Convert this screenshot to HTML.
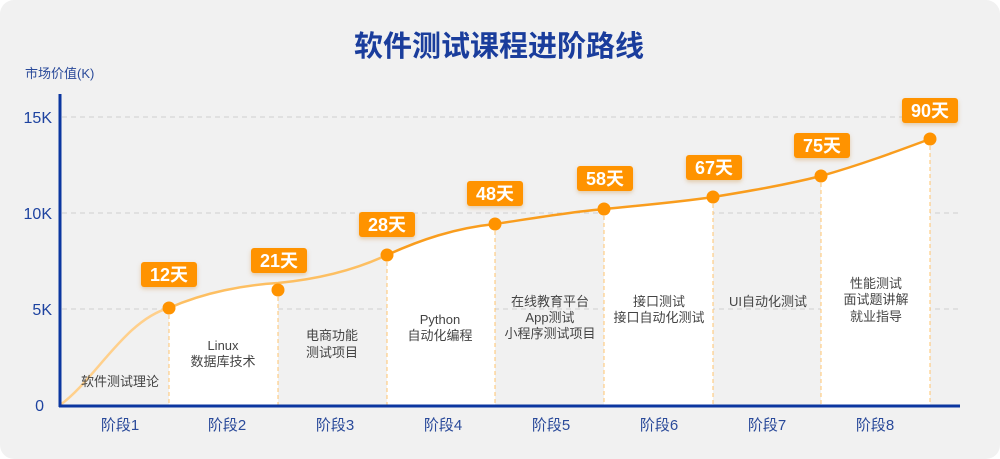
<!DOCTYPE html>
<html><head><meta charset="utf-8"><style>
html,body{margin:0;padding:0;background:#fff;}
svg{display:block;}
text{font-family:"Liberation Sans","Noto Sans CJK SC",sans-serif;}
</style></head><body>
<svg width="1000" height="459" viewBox="0 0 1000 459" xmlns="http://www.w3.org/2000/svg">
<defs>
<clipPath id="cols">
<rect x="169" y="0" width="109" height="406"/>
<rect x="387" y="0" width="108" height="406"/>
<rect x="604" y="0" width="109" height="406"/>
<rect x="821" y="0" width="109" height="406"/>
</clipPath>
<filter id="sh" x="-20%" y="-20%" width="140%" height="160%"><feDropShadow dx="0" dy="2" stdDeviation="2" flood-color="#c07000" flood-opacity="0.3"/></filter>
</defs>
<rect x="0" y="0" width="1000" height="459" rx="14" fill="#f1f1f1"/>
<text x="499" y="56" text-anchor="middle" font-size="29" font-weight="bold" fill="#1a3d9c">软件测试课程进阶路线</text>
<text x="25" y="78" font-size="13" fill="#2a4a9a">市场价值(K)</text>
<g stroke="#cfcfcf" stroke-width="1" stroke-dasharray="5,4">
<line x1="62" y1="117" x2="960" y2="117"/>
<line x1="62" y1="213" x2="960" y2="213"/>
<line x1="62" y1="309" x2="960" y2="309"/>
</g>
<g font-size="16" fill="#1e43a0" text-anchor="end">
<text x="52" y="123">15K</text>
<text x="52" y="219">10K</text>
<text x="52" y="315">5K</text>
<text x="44" y="411">0</text>
</g>
<path clip-path="url(#cols)" fill="#ffffff" d="M60,405 C95,380 125,320 169,308 C205,292 245,285 278,283 C320,279 355,270 387,255 C420,240 455,228 495,224 C535,218 570,212 604,209 C645,205 680,202 713,197 C750,191 785,185 821,176 C860,165 895,152 930,139 L930,406 L60,406 Z"/>
<g stroke="#ffc46e" stroke-width="1" stroke-dasharray="4,3">
<line x1="169" y1="308" x2="169" y2="405"/>
<line x1="278" y1="290" x2="278" y2="405"/>
<line x1="387" y1="255" x2="387" y2="405"/>
<line x1="495" y1="224" x2="495" y2="405"/>
<line x1="604" y1="209" x2="604" y2="405"/>
<line x1="713" y1="197" x2="713" y2="405"/>
<line x1="821" y1="176" x2="821" y2="405"/>
<line x1="930" y1="139" x2="930" y2="405"/>
</g>
<path fill="none" stroke="#ffd08c" stroke-width="2.5" d="M60,405 C95,380 125,320 169,308"/>
<path fill="none" stroke="#fdbf62" stroke-width="2.5" d="M169,308 C205,292 245,285 278,283 C320,279 355,270 387,255"/>
<path fill="none" stroke="#f99d1e" stroke-width="2.5" d="M387,255 C420,240 455,228 495,224 C535,218 570,212 604,209 C645,205 680,202 713,197 C750,191 785,185 821,176 C860,165 895,152 930,139"/>
<line x1="60" y1="94" x2="60" y2="407" stroke="#0b36a0" stroke-width="3"/>
<line x1="59" y1="406" x2="960" y2="406" stroke="#0b36a0" stroke-width="3"/>
<g fill="#ff9300">
<circle cx="169" cy="308" r="6.5"/><circle cx="278" cy="290" r="6.5"/><circle cx="387" cy="255" r="6.5"/><circle cx="495" cy="224" r="6.5"/>
<circle cx="604" cy="209" r="6.5"/><circle cx="713" cy="197" r="6.5"/><circle cx="821" cy="176" r="6.5"/><circle cx="930" cy="139" r="6.5"/>
</g>
<g fill="#ff9300" filter="url(#sh)">
<rect x="141" y="262" width="56" height="25" rx="3"/>
<rect x="251" y="248" width="56" height="25" rx="3"/>
<rect x="359" y="212" width="56" height="25" rx="3"/>
<rect x="467" y="181" width="56" height="25" rx="3"/>
<rect x="577" y="166" width="56" height="25" rx="3"/>
<rect x="686" y="155" width="56" height="25" rx="3"/>
<rect x="794" y="133" width="56" height="25" rx="3"/>
<rect x="902" y="98" width="56" height="25" rx="3"/>
</g>
<g fill="#fff" font-size="18" text-anchor="middle" font-weight="bold">
<text x="169" y="281">12天</text>
<text x="279" y="267">21天</text>
<text x="387" y="231">28天</text>
<text x="495" y="200">48天</text>
<text x="605" y="185">58天</text>
<text x="714" y="174">67天</text>
<text x="822" y="152">75天</text>
<text x="930" y="117">90天</text>
</g>
<g fill="#444" font-size="13" text-anchor="middle">
<text x="120" y="386">软件测试理论</text>
<text x="223" y="350">Linux</text><text x="223" y="366">数据库技术</text>
<text x="332" y="340">电商功能</text><text x="332" y="357">测试项目</text>
<text x="440" y="324">Python</text><text x="440" y="340">自动化编程</text>
<text x="550" y="306">在线教育平台</text><text x="550" y="322">App测试</text><text x="550" y="338">小程序测试项目</text>
<text x="659" y="306">接口测试</text><text x="659" y="322">接口自动化测试</text>
<text x="768" y="306">UI自动化测试</text>
<text x="876" y="288">性能测试</text><text x="876" y="304">面试题讲解</text><text x="876" y="321">就业指导</text>
</g>
<g fill="#2a4a9a" font-size="15" text-anchor="middle">
<text x="120" y="430">阶段1</text><text x="227" y="430">阶段2</text><text x="335" y="430">阶段3</text><text x="443" y="430">阶段4</text>
<text x="551" y="430">阶段5</text><text x="659" y="430">阶段6</text><text x="767" y="430">阶段7</text><text x="875" y="430">阶段8</text>
</g>
</svg>
</body></html>
